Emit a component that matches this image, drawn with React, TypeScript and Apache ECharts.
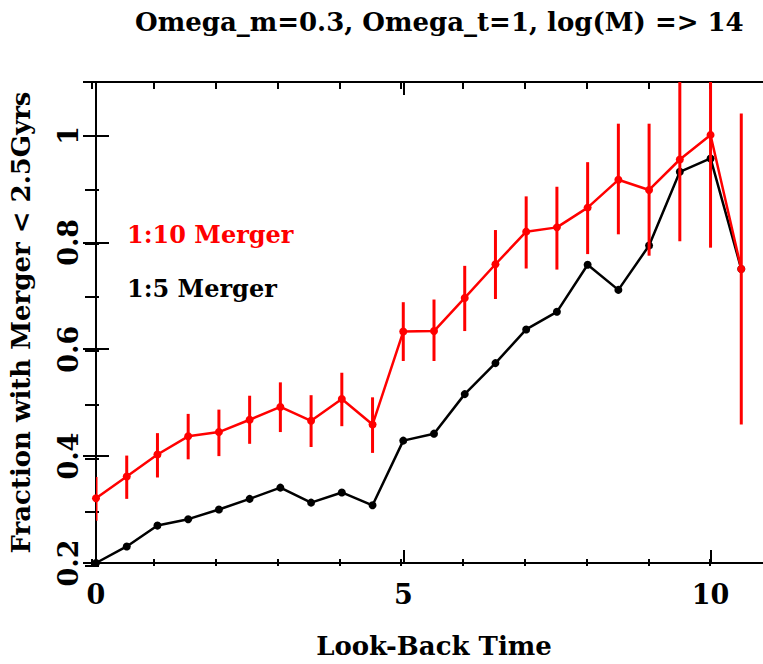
import React, { useEffect, useRef } from "react";
import * as echarts from "echarts";

const times = [0, 0.5, 1, 1.5, 2, 2.5, 3, 3.5, 4, 4.5, 5, 5.5, 6, 6.5, 7, 7.5, 8, 8.5, 9, 9.5, 10, 10.5];
const merger15 = [0.2, 0.231, 0.27, 0.282, 0.3, 0.32, 0.341, 0.313, 0.332, 0.308, 0.429, 0.442, 0.516, 0.574, 0.637, 0.67, 0.758, 0.711, 0.794, 0.932, 0.957, 0.75];
const merger110 = [0.321, 0.362, 0.403, 0.437, 0.445, 0.468, 0.492, 0.466, 0.507, 0.459, 0.633, 0.634, 0.696, 0.759, 0.82, 0.828, 0.865, 0.917, 0.898, 0.955, 1.001, 0.75];
const errLow110 = [0.279, 0.32, 0.36, 0.394, 0.4, 0.423, 0.445, 0.417, 0.456, 0.406, 0.578, 0.578, 0.634, 0.694, 0.751, 0.749, 0.778, 0.815, 0.775, 0.802, 0.79, 0.459];
const errHigh110 = [0.361, 0.401, 0.443, 0.479, 0.487, 0.513, 0.538, 0.514, 0.556, 0.51, 0.688, 0.693, 0.756, 0.823, 0.886, 0.904, 0.95, 1.022, 1.022, 1.108, 1.212, 1.041];
const xTickLabels = ["0", "5", "10"];
const yTickLabels = ["0.2", "0.4", "0.6", "0.8", "1"];

const FONT = "DejaVu Serif";

export default function App() {
  const ref = useRef<HTMLDivElement>(null);
  useEffect(() => {
    if (!ref.current) return;
    const chart = echarts.init(ref.current, null, { renderer: "svg" });
    const lineStyle = { color: "#000", width: 2 };
    const xMajorFmt = (v: number) => {
      const s = String(Math.round(v * 100) / 100);
      return xTickLabels.includes(s) ? s : "";
    };
    const yMajorFmt = (v: number) => {
      const s = String(Math.round(v * 100) / 100);
      return yTickLabels.includes(s) ? s : "";
    };
    const gridPos = { left: 92, right: 8, top: 82, bottom: 98 };
    const xBase = { type: "value", min: 0, max: 11, splitLine: { show: false } };
    const yBase = { type: "value", min: 0.2, max: 1.1, splitLine: { show: false } };
    const majorTick = { show: true, inside: true, length: 13, lineStyle };
    const minorTick = { show: true, inside: true, length: 7, lineStyle };
    const txt = { fontFamily: FONT, fontSize: 26, fontWeight: "bold", color: "#000" };
    const option: any = {
      animation: false,
      backgroundColor: "#fff",
      title: {
        text: "Omega_m=0.3, Omega_t=1, log(M) => 14",
        left: 130,
        top: 4,
        textStyle: { ...txt, fontSize: 26 },
      },
      grid: [
        { ...gridPos },
        { ...gridPos },
      ],
      xAxis: [
        {
          ...xBase,
          gridIndex: 0,
          position: "bottom",
          interval: 5,
          axisLine: { show: true, lineStyle },
          axisTick: majorTick,
          axisLabel: { ...txt, fontSize: 27, formatter: xMajorFmt, margin: 18 },
          name: "Look-Back Time",
          nameLocation: "middle",
          nameGap: 70,
          nameTextStyle: { ...txt },
        },
        {
          ...xBase,
          gridIndex: 0,
          position: "top",
          interval: 5,
          axisLine: { show: true, lineStyle },
          axisTick: majorTick,
          axisLabel: { show: false },
        },
        {
          ...xBase,
          gridIndex: 1,
          position: "bottom",
          interval: 1,
          axisLine: { show: false },
          axisTick: minorTick,
          axisLabel: { show: false },
        },
        {
          ...xBase,
          gridIndex: 1,
          position: "top",
          interval: 1,
          axisLine: { show: false },
          axisTick: minorTick,
          axisLabel: { show: false },
        },
      ],
      yAxis: [
        {
          ...yBase,
          gridIndex: 0,
          position: "left",
          interval: 0.2,
          axisLine: { show: true, lineStyle },
          axisTick: majorTick,
          axisLabel: { ...txt, fontSize: 27, formatter: yMajorFmt, rotate: 90, margin: 14 },
          name: "Fraction with Merger < 2.5Gyrs",
          nameLocation: "middle",
          nameGap: 62,
          nameTextStyle: { ...txt },
        },
        {
          ...yBase,
          gridIndex: 0,
          position: "right",
          interval: 0.2,
          axisLine: { show: true, lineStyle },
          axisTick: majorTick,
          axisLabel: { show: false },
        },
        {
          ...yBase,
          gridIndex: 1,
          position: "left",
          interval: 0.1,
          axisLine: { show: false },
          axisTick: minorTick,
          axisLabel: { show: false },
        },
        {
          ...yBase,
          gridIndex: 1,
          position: "right",
          interval: 0.1,
          axisLine: { show: false },
          axisTick: minorTick,
          axisLabel: { show: false },
        },
      ],
      series: [
        {
          name: "1:5 Merger",
          type: "line",
          xAxisIndex: 0,
          yAxisIndex: 0,
          data: times.map((t, i) => [t, merger15[i]]),
          symbol: "circle",
          symbolSize: 8,
          itemStyle: { color: "#000" },
          lineStyle: { color: "#000", width: 2.5 },
          z: 3,
        },
        {
          name: "1:10 Merger err",
          type: "custom",
          xAxisIndex: 0,
          yAxisIndex: 0,
          clip: true,
          data: times.map((t, i) => [t, errLow110[i], errHigh110[i]]),
          renderItem: (params: any, api: any) => {
            const p1 = api.coord([api.value(0), api.value(1)]);
            const p2 = api.coord([api.value(0), api.value(2)]);
            return {
              type: "line",
              shape: { x1: p1[0], y1: p1[1], x2: p2[0], y2: p2[1] },
              style: { stroke: "#ff0000", lineWidth: 3 },
            };
          },
          z: 4,
        },
        {
          name: "1:10 Merger",
          type: "line",
          xAxisIndex: 0,
          yAxisIndex: 0,
          data: times.map((t, i) => [t, merger110[i]]),
          symbol: "circle",
          symbolSize: 8,
          itemStyle: { color: "#ff0000" },
          lineStyle: { color: "#ff0000", width: 2.5 },
          z: 5,
        },
      ],
      graphic: [
        {
          type: "text",
          left: 127,
          top: 222,
          style: { text: "1:10 Merger", fill: "#ff0000", font: `bold 24px "${FONT}"` },
        },
        {
          type: "text",
          left: 127,
          top: 276,
          style: { text: "1:5 Merger", fill: "#000", font: `bold 24px "${FONT}"` },
        },
      ],
    };
    chart.setOption(option);
    return () => chart.dispose();
  }, []);
  return (
    <div
      ref={ref}
      style={{ position: "fixed", left: 0, top: 0, width: 780, height: 664, background: "#fff" }}
    />
  );
}
